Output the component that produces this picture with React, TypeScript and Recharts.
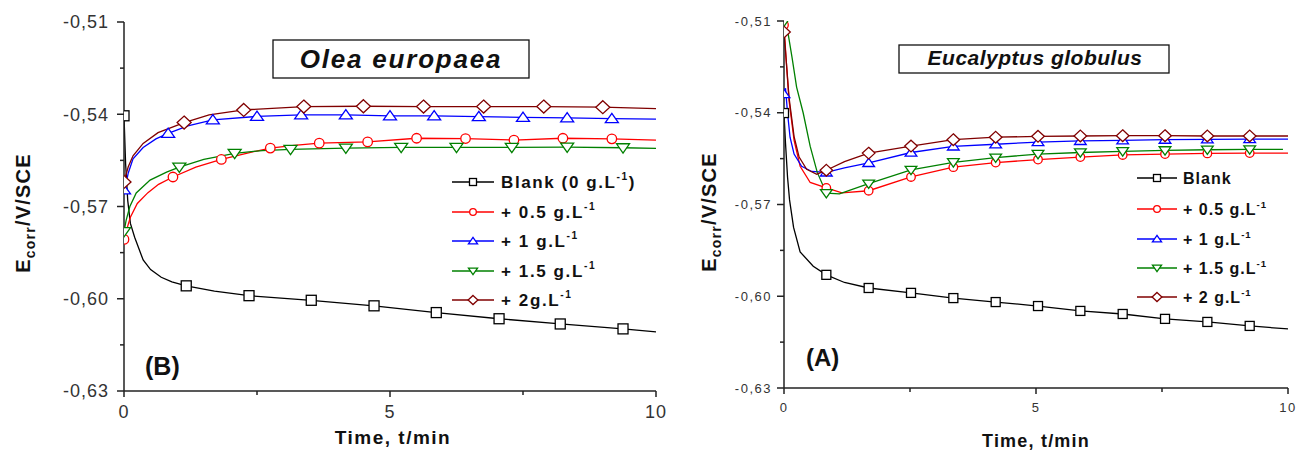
import { LineChart, Line, XAxis, YAxis } from 'recharts';

// [time (min), Ecorr (V/SCE), 1 = symbol drawn at this point]
type Pt = [number, number, number];

const timeTicks = [0, 2.5, 5, 7.5, 10];
const timeMajor = [0, 5, 10];
const eTicks = [-0.63, -0.615, -0.6, -0.585, -0.57, -0.555, -0.54, -0.525, -0.51];

// (B) Olea europaea
const oleaBlank: Pt[] = [
  [0, -0.5405, 1], [0.03, -0.556, 0], [0.07, -0.568, 0], [0.12, -0.5755, 0], [0.2, -0.58, 0],
  [0.36, -0.5874, 0], [0.5, -0.5905, 0], [0.7, -0.593, 0], [0.9, -0.5945, 0], [1.17, -0.5958, 1],
  [1.7, -0.5975, 0], [2.35, -0.599, 1], [3.52, -0.6005, 1], [4.7, -0.6023, 1], [5.87, -0.6045, 1],
  [7.05, -0.6065, 1], [8.2, -0.6082, 1], [9.38, -0.6098, 1], [10, -0.6108, 0],
];
const oleaC05: Pt[] = [
  [0, -0.5807, 1], [0.05, -0.5775, 0], [0.12, -0.5735, 0], [0.25, -0.569, 0], [0.45, -0.5655, 0],
  [0.65, -0.5628, 0], [0.92, -0.5604, 1], [1.35, -0.5572, 0], [1.83, -0.5547, 1], [2.3, -0.5527, 0],
  [2.75, -0.551, 1], [3.2, -0.5501, 0], [3.67, -0.5494, 1], [4.58, -0.549, 1], [5.5, -0.5478, 1],
  [6.42, -0.5479, 1], [7.33, -0.5484, 1], [8.25, -0.5478, 1], [9.17, -0.548, 1], [10, -0.5484, 0],
];
const oleaC1: Pt[] = [
  [0, -0.5646, 1], [0.04, -0.5625, 0], [0.08, -0.5591, 0], [0.17, -0.5545, 0], [0.36, -0.5508, 0],
  [0.6, -0.548, 0], [0.83, -0.5462, 1], [1.2, -0.5438, 0], [1.67, -0.5418, 1], [2.5, -0.5407, 1],
  [3.33, -0.5402, 1], [4.17, -0.5402, 1], [5.0, -0.5405, 1], [5.83, -0.5405, 1], [6.67, -0.5408, 1],
  [7.5, -0.541, 1], [8.33, -0.5412, 1], [9.17, -0.5414, 1], [10, -0.5416, 0],
];
const oleaC15: Pt[] = [
  [0, -0.5782, 1], [0.04, -0.5745, 0], [0.11, -0.57, 0], [0.23, -0.5656, 0], [0.49, -0.5614, 0],
  [0.8, -0.5588, 0], [1.04, -0.5572, 1], [1.5, -0.5547, 0], [2.08, -0.5527, 1], [2.6, -0.5518, 0],
  [3.13, -0.5514, 1], [4.17, -0.551, 1], [5.21, -0.5508, 1], [6.25, -0.5508, 1], [7.29, -0.5508, 1],
  [8.33, -0.5507, 1], [9.38, -0.5509, 1], [10, -0.5511, 0],
];
const oleaC2: Pt[] = [
  [0, -0.562, 1], [0.04, -0.5595, 0], [0.08, -0.5571, 0], [0.17, -0.5535, 0], [0.36, -0.5495, 0],
  [0.64, -0.546, 0], [1.13, -0.5427, 1], [1.6, -0.5402, 0], [2.25, -0.5386, 1], [3.38, -0.5375, 1],
  [4.5, -0.5374, 1], [5.63, -0.5375, 1], [6.76, -0.5375, 1], [7.89, -0.5375, 1], [9.0, -0.5377, 1],
  [10, -0.5382, 0],
];

// (A) Eucalyptus globulus
const eucaBlank: Pt[] = [
  [0, -0.5401, 1], [0.03, -0.55, 0], [0.07, -0.561, 0], [0.11, -0.5685, 0], [0.19, -0.5775, 0],
  [0.32, -0.5855, 0], [0.58, -0.5902, 0], [0.84, -0.593, 1], [1.2, -0.5955, 0], [1.68, -0.5973, 1],
  [2.52, -0.5989, 1], [3.36, -0.6006, 1], [4.2, -0.6019, 1], [5.04, -0.6032, 1], [5.88, -0.6048, 1],
  [6.72, -0.6058, 1], [7.56, -0.6074, 1], [8.4, -0.6084, 1], [9.24, -0.6097, 1], [10, -0.6107, 0],
];
const eucaC05: Pt[] = [
  [0, -0.5113, 1], [0.04, -0.522, 0], [0.1, -0.536, 0], [0.2, -0.549, 0], [0.32, -0.5575, 0],
  [0.52, -0.5628, 0], [0.84, -0.5646, 1], [1.15, -0.5662, 0], [1.68, -0.5655, 1], [2.52, -0.561, 1],
  [3.36, -0.5578, 1], [4.2, -0.5563, 1], [5.04, -0.5553, 1], [5.88, -0.5545, 1], [6.72, -0.5538, 1],
  [7.56, -0.5535, 1], [8.4, -0.5533, 1], [9.24, -0.5532, 1], [10, -0.5532, 0],
];
const eucaC1: Pt[] = [
  [0, -0.5339, 1], [0.03, -0.532, 0], [0.07, -0.54, 0], [0.12, -0.548, 0], [0.2, -0.5535, 0],
  [0.35, -0.5575, 0], [0.55, -0.5592, 0], [0.84, -0.5595, 1], [1.2, -0.558, 0], [1.68, -0.5564, 1],
  [2.52, -0.553, 1], [3.36, -0.551, 1], [4.2, -0.5503, 1], [5.04, -0.5496, 1], [5.88, -0.5492, 1],
  [6.72, -0.549, 1], [7.56, -0.5488, 1], [8.4, -0.5487, 1], [9.24, -0.5486, 1], [10, -0.5486, 0],
];
const eucaC15: Pt[] = [
  [0, -0.5102, 1], [0.08, -0.514, 0], [0.16, -0.522, 0], [0.25, -0.5316, 0], [0.38, -0.54, 0],
  [0.52, -0.551, 0], [0.66, -0.5595, 0], [0.84, -0.5663, 1], [1.1, -0.5665, 0], [1.68, -0.5632, 1],
  [2.52, -0.5587, 1], [3.36, -0.5562, 1], [4.2, -0.5547, 1], [5.04, -0.5535, 1], [5.88, -0.553, 1],
  [6.72, -0.5526, 1], [7.56, -0.5523, 1], [8.4, -0.5521, 1], [9.24, -0.552, 1], [9.9, -0.552, 0],
];
const eucaC2: Pt[] = [
  [0, -0.5136, 1], [0.04, -0.522, 0], [0.1, -0.535, 0], [0.2, -0.5478, 0], [0.3, -0.5545, 0],
  [0.45, -0.5585, 0], [0.65, -0.5601, 0], [0.84, -0.5588, 1], [1.2, -0.556, 0], [1.68, -0.5532, 1],
  [2.52, -0.5509, 1], [3.36, -0.5488, 1], [4.2, -0.548, 1], [5.04, -0.5477, 1], [5.88, -0.5476, 1],
  [6.72, -0.5475, 1], [7.56, -0.5475, 1], [8.4, -0.5476, 1], [9.24, -0.5476, 1], [10, -0.5476, 0],
];

const oleaLabels = ['Blank (0 g.L', '+ 0.5 g.L', '+ 1 g.L', '+ 1.5 g.L', '+ 2g.L'];
const eucaLabels = ['Blank', '+ 0.5 g.L', '+ 1 g.L', '+ 1.5 g.L', '+ 2 g.L'];

const colors = ['#000000', '#ff0000', '#0000ff', '#008000', '#800000'];
const shapes = ['square', 'circle', 'up', 'down', 'diamond'];

const FONT = '"Liberation Sans", Arial, sans-serif';
const AXIS = '#222';

const toRows = (pts: Pt[]) => pts.map(([t, v, m]) => ({ t, v, m }));

function Marker({ shape, cx, cy, s, color }: { shape: string; cx: number; cy: number; s: number; color: string }) {
  const h = s / 2;
  const common = { fill: '#fff', stroke: color, strokeWidth: 1.3 };
  if (shape === 'square') return <rect x={cx - h} y={cy - h} width={s} height={s} {...common} />;
  if (shape === 'circle') return <circle cx={cx} cy={cy} r={h * 0.95} {...common} />;
  if (shape === 'up')
    return <polygon points={`${cx},${cy - h * 1.05} ${cx + h * 1.3},${cy + h * 0.8} ${cx - h * 1.3},${cy + h * 0.8}`} {...common} />;
  if (shape === 'down')
    return <polygon points={`${cx},${cy + h * 1.05} ${cx + h * 1.3},${cy - h * 0.8} ${cx - h * 1.3},${cy - h * 0.8}`} {...common} />;
  return <polygon points={`${cx},${cy - h * 1.3} ${cx + h * 1.4},${cy} ${cx},${cy + h * 1.3} ${cx - h * 1.4},${cy}`} {...common} />;
}

const isMajorE = (v: number) => Math.round(Math.abs(v) * 1000) % 30 === 0;

type PanelProps = {
  id: string;
  left: number;
  width: number;
  top: number;
  right: number;
  yw: number;
  xh: number;
  fs: number;
  ls: number;
  xdy: number;
  ygap: number;
  ms: number;
  series: Pt[][];
};

function Panel({ id, left, width, top, right, yw, xh, fs, ls, xdy, ygap, ms, series }: PanelProps) {
  const textStyle = { fontFamily: FONT, fontSize: fs, letterSpacing: ls, fill: '#333' };

  const bottomTick = (p: any) => {
    const major = timeMajor.includes(p.payload.value);
    return (
      <g>
        <line x1={p.x} x2={p.x} y1={p.y} y2={p.y + (major ? 6 : 4)} stroke={AXIS} strokeWidth={1.5} />
        {major && (
          <text x={p.x} y={p.y + xdy} textAnchor="middle" style={textStyle}>
            {p.payload.value}
          </text>
        )}
      </g>
    );
  };
  const topTick = (p: any) => {
    const major = timeMajor.includes(p.payload.value);
    return <line x1={p.x} x2={p.x} y1={p.y} y2={p.y + (major ? 6 : 4)} stroke={AXIS} strokeWidth={1.5} />;
  };
  const leftTick = (p: any) => {
    const major = isMajorE(p.payload.value);
    return (
      <g>
        <line x1={p.x} x2={p.x - (major ? 7 : 4)} y1={p.y} y2={p.y} stroke={AXIS} strokeWidth={1.5} />
        {major && (
          <text x={p.x - ygap} y={p.y} dy="0.35em" textAnchor="end" style={textStyle}>
            {p.payload.value.toFixed(2).replace('.', ',')}
          </text>
        )}
      </g>
    );
  };
  const rightTick = (p: any) => {
    const major = isMajorE(p.payload.value);
    return <line x1={p.x} x2={p.x - (major ? 6 : 4)} y1={p.y} y2={p.y} stroke={AXIS} strokeWidth={1.5} />;
  };

  return (
    <div style={{ position: 'absolute', left, top: 0 }}>
      <LineChart width={width} height={450} margin={{ top, right, bottom: 0, left: 0 }}>
        <XAxis
          dataKey="t"
          type="number"
          domain={[0, 10]}
          ticks={timeTicks}
          interval={0}
          allowDataOverflow
          height={xh}
          tickSize={0}
          tickMargin={0}
          tick={bottomTick}
          axisLine={{ stroke: AXIS, strokeWidth: 1.5 }}
        />
        <XAxis
          xAxisId="top"
          orientation="top"
          dataKey="t"
          type="number"
          domain={[0, 10]}
          ticks={timeTicks}
          interval={0}
          allowDataOverflow
          height={0}
          tickSize={0}
          tickMargin={0}
          tick={topTick}
          axisLine={{ stroke: AXIS, strokeWidth: 1.5 }}
        />
        <YAxis
          type="number"
          domain={[-0.63, -0.51]}
          ticks={eTicks}
          interval={0}
          allowDataOverflow
          width={yw}
          tickSize={0}
          tickMargin={0}
          tick={leftTick}
          axisLine={{ stroke: AXIS, strokeWidth: 1.5 }}
        />
        <YAxis
          yAxisId="r"
          orientation="right"
          type="number"
          domain={[-0.63, -0.51]}
          ticks={eTicks}
          interval={0}
          allowDataOverflow
          width={0}
          tickSize={0}
          tickMargin={0}
          tick={rightTick}
          axisLine={{ stroke: AXIS, strokeWidth: 1.5 }}
        />
        {series.map((pts, i) => (
          <Line
            key={`${id}-${i}`}
            data={toRows(pts)}
            dataKey="v"
            type="linear"
            stroke={colors[i]}
            strokeWidth={1.3}
            isAnimationActive={false}
            activeDot={false}
            dot={(p: any) =>
              p.payload.m ? (
                <Marker key={`${id}-${i}-${p.index}`} shape={shapes[i]} cx={p.cx} cy={p.cy} s={ms} color={colors[i]} />
              ) : (
                <g key={`${id}-${i}-${p.index}`} />
              )
            }
          />
        ))}
      </LineChart>
    </div>
  );
}

function LegendBlock({ x1, x2, tx, rows, labels, fs, ls, closeParen }: any) {
  return (
    <g>
      {labels.map((lab: string, i: number) => (
        <g key={lab}>
          <line x1={x1} x2={x2} y1={rows[i]} y2={rows[i]} stroke={colors[i]} strokeWidth={1.3} />
          <Marker shape={shapes[i]} cx={(x1 + x2) / 2} cy={rows[i]} s={7} color={colors[i]} />
          <text x={tx} y={rows[i]} dy="0.36em" style={{ fontFamily: FONT, fontSize: fs, fontWeight: 'bold', letterSpacing: ls, fill: '#111' }}>
            {lab}
            {(i > 0 || closeParen) && (
              <tspan dy={-fs * 0.45} fontSize={fs * 0.6}>
                -1
              </tspan>
            )}
            {i === 0 && closeParen && <tspan dy={fs * 0.45}>)</tspan>}
          </text>
        </g>
      ))}
    </g>
  );
}

function YTitle({ x, y }: { x: number; y: number }) {
  return (
    <text
      x={x}
      y={y}
      transform={`rotate(-90, ${x}, ${y})`}
      textAnchor="middle"
      style={{ fontFamily: FONT, fontSize: 20, fontWeight: 'bold', letterSpacing: 1.2, fill: '#111' }}
    >
      E
      <tspan dy={5} fontSize={14}>
        corr
      </tspan>
      <tspan dy={-5}>/V/SCE</tspan>
    </text>
  );
}

export default function App() {
  const bold = { fontFamily: FONT, fontWeight: 'bold', fill: '#111' } as const;
  return (
    <div style={{ position: 'absolute', left: 0, top: 0, width: 1299, height: 450, background: '#fff', overflow: 'hidden' }}>
      <Panel
        id="olea"
        left={0}
        width={670}
        top={22}
        right={14}
        yw={124}
        xh={59}
        fs={18}
        ls={1}
        xdy={27}
        ygap={15}
        ms={10}
        series={[oleaBlank, oleaC05, oleaC1, oleaC15, oleaC2]}
      />
      <Panel
        id="euca"
        left={680}
        width={619}
        top={21}
        right={11}
        yw={104}
        xh={62}
        fs={13}
        ls={1.5}
        xdy={24}
        ygap={12}
        ms={9}
        series={[eucaBlank, eucaC05, eucaC1, eucaC15, eucaC2]}
      />
      <svg width={1299} height={450} style={{ position: 'absolute', left: 0, top: 0, pointerEvents: 'none' }}>
        <rect x={273} y={40} width={256} height={38} fill="#fff" stroke="#111" strokeWidth={1.3} />
        <text x={401} y={68} textAnchor="middle" style={{ ...bold, fontSize: 26, fontStyle: 'italic', letterSpacing: 1.8 }}>
          Olea europaea
        </text>
        <rect x={899} y={45} width={270} height={28} fill="#fff" stroke="#111" strokeWidth={1.3} />
        <text x={1035} y={65} textAnchor="middle" style={{ ...bold, fontSize: 21, fontStyle: 'italic', letterSpacing: 0.5 }}>
          Eucalyptus globulus
        </text>
        <LegendBlock x1={452} x2={494} tx={501} rows={[182, 212, 241, 271, 300]} labels={oleaLabels} fs={17} ls={1.6} closeParen />
        <LegendBlock x1={1137} x2={1177} tx={1183} rows={[178, 209, 239, 268, 297]} labels={eucaLabels} fs={16} ls={1} closeParen={false} />
        <text x={145} y={375} style={{ ...bold, fontSize: 25 }}>(B)</text>
        <text x={806} y={366} style={{ ...bold, fontSize: 24 }}>(A)</text>
        <YTitle x={30} y={213} />
        <YTitle x={716} y={212} />
        <text x={393} y={444} textAnchor="middle" style={{ ...bold, fontSize: 19, letterSpacing: 1.5 }}>
          Time, t/min
        </text>
        <text x={1036} y={447} textAnchor="middle" style={{ ...bold, fontSize: 18, letterSpacing: 1.2 }}>
          Time, t/min
        </text>
      </svg>
    </div>
  );
}
